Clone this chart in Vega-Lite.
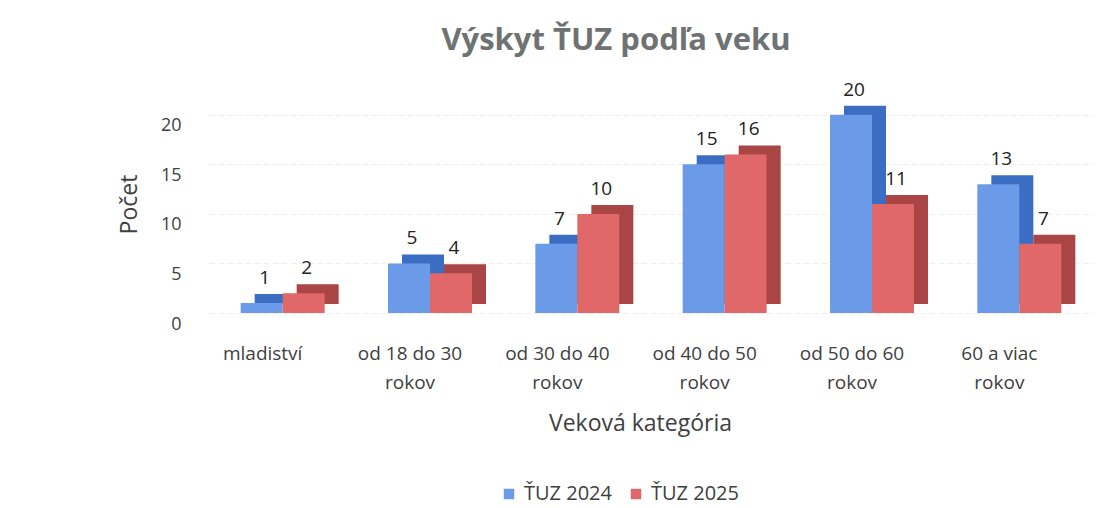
{
  "$schema": "https://vega.github.io/schema/vega-lite/v6.json",
  "autosize": {"type": "none"},
  "width": 884,
  "height": 218,
  "padding": {"left": 209, "top": 95, "right": 9, "bottom": 195},
  "background": "white",
  "config": {
    "font": "Open Sans",
    "view": {"stroke": null},
    "axis": {"labelFont": "Open Sans", "titleFont": "Open Sans", "labelColor": "#404040", "titleColor": "#404040", "domain": false, "ticks": false}
  },
  "title": {
    "text": "Výskyt ŤUZ podľa veku",
    "font": "Open Sans",
    "fontSize": 31,
    "fontWeight": "bold",
    "color": "#6e7272",
    "anchor": "middle",
    "dx": -35,
    "offset": 24
  },
  "data": {
    "values": [
      {"kategoria": "mladiství", "rok": "ŤUZ 2024", "pocet": 1},
      {"kategoria": "mladiství", "rok": "ŤUZ 2025", "pocet": 2},
      {"kategoria": "od 18 do 30 rokov", "rok": "ŤUZ 2024", "pocet": 5},
      {"kategoria": "od 18 do 30 rokov", "rok": "ŤUZ 2025", "pocet": 4},
      {"kategoria": "od 30 do 40 rokov", "rok": "ŤUZ 2024", "pocet": 7},
      {"kategoria": "od 30 do 40 rokov", "rok": "ŤUZ 2025", "pocet": 10},
      {"kategoria": "od 40 do 50 rokov", "rok": "ŤUZ 2024", "pocet": 15},
      {"kategoria": "od 40 do 50 rokov", "rok": "ŤUZ 2025", "pocet": 16},
      {"kategoria": "od 50 do 60 rokov", "rok": "ŤUZ 2024", "pocet": 20},
      {"kategoria": "od 50 do 60 rokov", "rok": "ŤUZ 2025", "pocet": 11},
      {"kategoria": "60 a viac rokov", "rok": "ŤUZ 2024", "pocet": 13},
      {"kategoria": "60 a viac rokov", "rok": "ŤUZ 2025", "pocet": 7}
    ]
  },
  "encoding": {
    "x": {
      "field": "kategoria",
      "type": "nominal",
      "sort": null,
      "scale": {"paddingInner": 0.43, "paddingOuter": 0.215},
      "axis": {
        "title": "Veková kategória",
        "titleFontSize": 23,
        "titleFontWeight": "normal",
        "titlePadding": 20,
        "titleX": 431,
        "labelAngle": 0,
        "labelFontSize": 19,
        "labelPadding": 31,
        "labelOffset": -20,
        "labelLineHeight": 29,
        "labelExpr": "indexof(datum.label, ' rokov') > 0 ? [replace(datum.label, ' rokov', ''), 'rokov'] : datum.label"
      }
    },
    "y": {
      "field": "pocet",
      "type": "quantitative",
      "scale": {"domain": [0, 22], "nice": false},
      "axis": {
        "title": "Počet",
        "titleFontSize": 23,
        "titleFontWeight": "normal",
        "titlePadding": 19,
        "values": [0, 5, 10, 15, 20],
        "labelFontSize": 18,
        "labelPadding": 28,
        "labelOffset": 11,
        "gridColor": "#eeeeee",
        "gridDash": [6, 3],
        "gridWidth": 1
      }
    }
  },
  "layer": [
    {
      "mark": {"type": "bar", "yOffset": -9, "y2Offset": -9},
      "encoding": {
        "xOffset": {"field": "rok", "type": "nominal", "scale": {"range": [14, 98], "paddingInner": 0, "paddingOuter": 0}},
        "color": {
          "field": "rok",
          "type": "nominal",
          "scale": {"domain": ["ŤUZ 2024", "ŤUZ 2025"], "range": ["#3b6ec2", "#a94545"]},
          "legend": null
        }
      }
    },
    {
      "layer": [
        {
          "mark": {"type": "bar"},
          "encoding": {
            "xOffset": {"field": "rok", "type": "nominal", "scale": {"paddingInner": 0, "paddingOuter": 0}},
            "fill": {
              "field": "rok",
              "type": "nominal",
              "scale": {"domain": ["ŤUZ 2024", "ŤUZ 2025"], "range": ["#6b9be8", "#e06868"]},
              "legend": {
                "title": null,
                "orient": "none",
                "legendX": 290,
                "legendY": 389,
                "direction": "horizontal",
                "symbolType": "square",
                "symbolSize": 110,
                "symbolStrokeWidth": 0,
                "labelFont": "Open Sans",
                "labelFontSize": 20,
                "labelOffset": 5,
                "labelColor": "#404040",
                "columnPadding": 14
              }
            }
          }
        },
        {
          "mark": {"type": "text", "baseline": "bottom", "fontSize": 19, "color": "#222222", "dx": 3, "dy": -15},
          "encoding": {
            "xOffset": {"field": "rok", "type": "nominal", "scale": {"paddingInner": 0, "paddingOuter": 0}},
            "text": {"field": "pocet", "type": "quantitative"}
          }
        }
      ]
    }
  ],
  "resolve": {"scale": {"xOffset": "independent"}, "legend": {"color": "independent", "fill": "independent"}}
}
